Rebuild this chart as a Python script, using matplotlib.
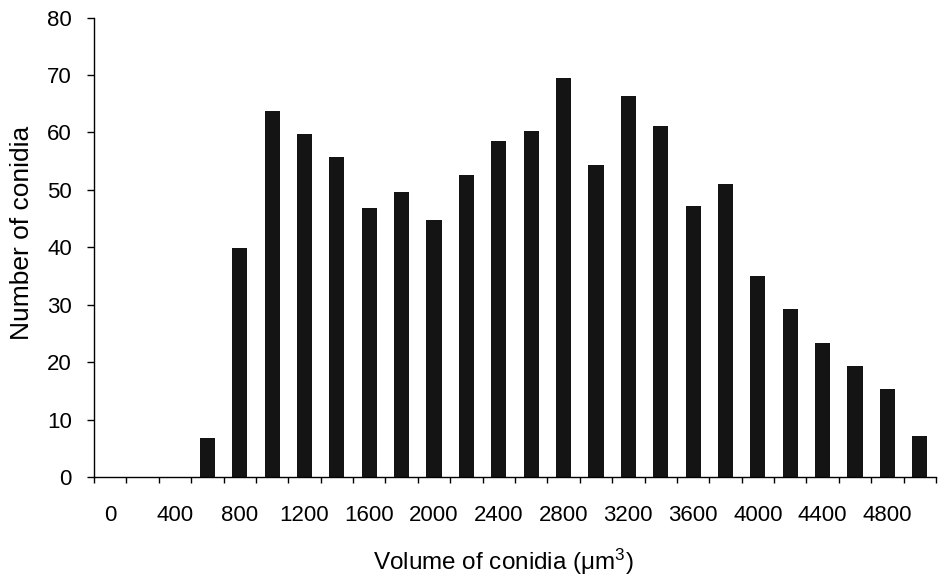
import matplotlib
matplotlib.use("Agg")
import matplotlib.pyplot as plt
import numpy as np

# histogram bins (um^3) and counts
volume_bins = list(range(0, 5001, 200))
counts = [0, 0, 0, 6.8, 39.8, 63.8, 59.8, 55.7, 46.8, 49.7, 44.8, 52.5, 58.5,
          60.3, 69.5, 54.3, 66.4, 61.1, 47.2, 51.0, 35.0, 29.2, 23.3, 19.3,
          15.4, 7.1]
y_ticks = list(range(0, 81, 10))

plt.rcParams['font.family'] = ['Liberation Sans', 'DejaVu Sans']
plt.rcParams['mathtext.fontset'] = 'custom'
plt.rcParams['mathtext.rm'] = 'Liberation Sans'
plt.rcParams['mathtext.it'] = 'Liberation Sans'

fig = plt.figure(figsize=(9.38, 5.82), dpi=100)
ax = fig.add_axes([94 / 938, 1 - 477 / 582, (936 - 94) / 938, (477 - 17.5) / 582])

pos = np.arange(len(volume_bins))
ax.bar(pos, counts, width=0.47, color='#141414', edgecolor='none')

ax.set_xlim(-0.5, len(volume_bins) - 0.5)
ax.set_ylim(0, 80)

# tick marks between categories, labels on every other category
ax.set_xticks(np.arange(-0.5, len(volume_bins), 1))
ax.set_xticklabels([])
ax.set_xticks(pos[0:25:2], minor=True)
ax.set_xticklabels([str(v) for v in volume_bins[0:25:2]], minor=True)
ax.tick_params(axis='x', which='major', direction='out', length=4.5, width=1)
ax.tick_params(axis='x', which='minor', length=0, pad=20, labelsize=16)

ax.set_yticks(y_ticks)
ax.tick_params(axis='y', direction='out', length=5, width=1, pad=11, labelsize=16)

for s in ['top', 'right']:
    ax.spines[s].set_visible(False)
for s in ['left', 'bottom']:
    ax.spines[s].set_linewidth(1)

fig.text(503 / 938, 1 - 570 / 582, r'Volume of conidia ($\mu$m$^3$)',
         ha='center', va='baseline', fontsize=17.5)
fig.text(22 / 938, 1 - 233 / 582, 'Number of conidia', rotation=90,
         ha='center', va='center', fontsize=19)

fig.savefig('out.png', dpi=100)
